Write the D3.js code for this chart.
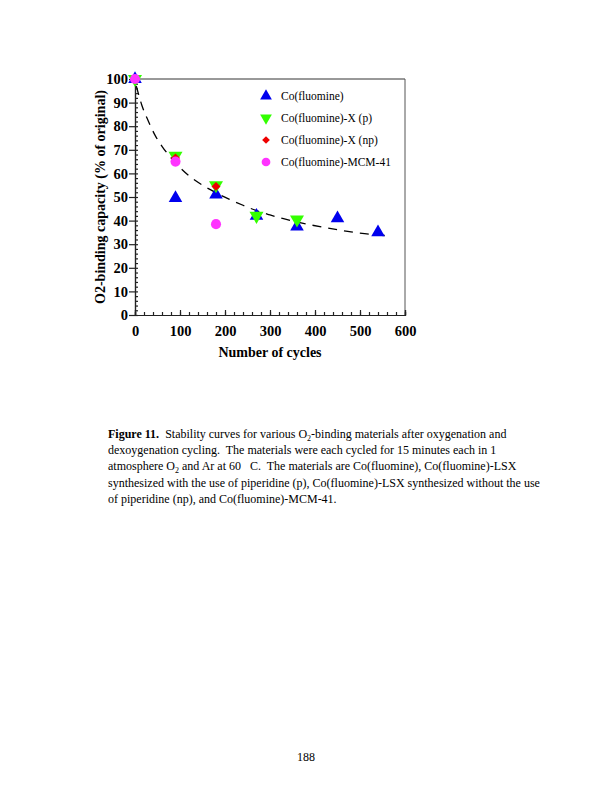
<!DOCTYPE html>
<html>
<head>
<meta charset="utf-8">
<script src="https://cdn.jsdelivr.net/npm/d3@7/dist/d3.min.js"></script>
<style>
body { margin: 0; background: #fff; }
svg text { font-family: "Liberation Serif", "Times New Roman", serif; }
</style>
</head>
<body>
<svg id="page" width="612" height="792"></svg>
<script>
// data
const seriesNames = ["Co(fluomine)", "Co(fluomine)-X (p)", "Co(fluomine)-X (np)", "Co(fluomine)-MCM-41"];
const fluomineX = [0, 90, 180, 270, 360, 450, 540];
const fluomineY = [100, 49.5, 51, 42, 37.5, 41, 35];
const xpX = [0, 90, 180, 270, 360];
const xpY = [100, 67.5, 55, 42, 40.5];
const xnpX = [0, 90, 180];
const xnpY = [100, 66.5, 54.5];
const mcmX = [0, 90, 180];
const mcmY = [100, 65, 38.5];
const fitX = [3, 15, 30, 45, 60, 90, 120, 150, 180, 210, 240, 270, 300, 330, 360, 390, 420, 450, 480, 510, 540, 570];
const fitY = [97, 89, 82, 76, 71.5, 64.5, 59, 55, 51.8, 49, 46.5, 44.2, 42.4, 40.8, 39.4, 38.2, 37.1, 36.1, 35.2, 34.5, 33.9, 33.5];
const xTicks = [0, 100, 200, 300, 400, 500, 600];
const yTicks = [0, 10, 20, 30, 40, 50, 60, 70, 80, 90, 100];

let svg = d3.select("#page");
let margin = {top: 79, left: 135, right: 207, bottom: 477};
let width = 612 - margin.left - margin.right;
let height = 792 - margin.top - margin.bottom;

let x = d3.scaleLinear().domain([0, 600]).range([0, width]);
let y = d3.scaleLinear().domain([0, 100]).range([height, 0]);

let g = svg.append("g")
    .attr("transform", "translate(" + margin.left + "," + margin.top + ")");

// frame top and right
g.append("line").attr("x1", 0).attr("x2", width).attr("y1", 0).attr("y2", 0)
    .attr("stroke", "#333").attr("stroke-width", 1);
g.append("line").attr("x1", width).attr("x2", width).attr("y1", 0).attr("y2", height)
    .attr("stroke", "#555").attr("stroke-width", 1);

// x axis: minor + major ticks pointing inward
let xAxis = g.append("g").attr("transform", "translate(0," + height + ")");
xAxis.call(d3.axisBottom(x).tickValues(d3.range(0, 601, 20)).tickSize(-3).tickFormat(""));
xAxis.append("g").call(d3.axisBottom(x).tickValues(xTicks).tickSize(-5).tickPadding(11)
    .tickFormat(d3.format("d")));
xAxis.selectAll("path, line").attr("stroke", "#222").attr("stroke-width", 1.2);
xAxis.selectAll("text").attr("fill", "#000").attr("font-size", 14.5).attr("font-weight", "bold")
    .attr("font-family", "Liberation Serif");

// y axis: major ticks left, minor ticks right
let yAxis = g.append("g");
yAxis.call(d3.axisRight(y).tickValues(d3.range(0, 101, 2)).tickSize(3).tickFormat(""));
yAxis.append("g").call(d3.axisLeft(y).tickValues(yTicks).tickSize(6).tickPadding(1)
    .tickFormat(d3.format("d")));
yAxis.selectAll("path, line").attr("stroke", "#222").attr("stroke-width", 1.2);
yAxis.selectAll("text").attr("fill", "#000").attr("font-size", 14.5).attr("font-weight", "bold")
    .attr("font-family", "Liberation Serif");

// axis titles
g.append("text").attr("x", width / 2).attr("y", height + 42)
    .attr("text-anchor", "middle").attr("font-size", 14).attr("font-weight", "bold")
    .text("Number of cycles");
g.append("text").attr("transform", "translate(-30," + (height / 2) + ") rotate(-90)")
    .attr("text-anchor", "middle").attr("font-size", 14).attr("font-weight", "bold")
    .text("O2-binding capacity (% of original)");

// dashed fit curve
let line = d3.line().x((d, i) => x(fitX[i])).y((d, i) => y(fitY[i])).curve(d3.curveMonotoneX);
g.append("path").datum(fitX).attr("d", line)
    .attr("fill", "none").attr("stroke", "#000").attr("stroke-width", 1.3)
    .attr("stroke-dasharray", "9,7");

let symbols = [d3.symbolTriangle, d3.symbolTriangle, d3.symbolSquare, d3.symbolCircle];
let colors = ["#0000ee", "#33ff00", "#ee0000", "#ff33ff"];
let rotations = [0, 180, 45, 0];
let sizes = [80, 85, 40, 80];
let series = [[fluomineX, fluomineY], [xpX, xpY], [xnpX, xnpY], [mcmX, mcmY]];

series.forEach(([xs, ys], s) => {
    g.selectAll(".pt" + s)
        .data(xs)
        .enter()
        .append("path")
        .attr("class", "pt" + s)
        .attr("d", d3.symbol().type(symbols[s]).size(sizes[s]))
        .attr("transform", (d, i) => "translate(" + x(d) + "," + y(ys[i]) + ") rotate(" + rotations[s] + ")")
        .attr("fill", colors[s]);
});

// legend
let legend = g.append("g").attr("transform", "translate(131,17)");
seriesNames.forEach((name, i) => {
    let row = legend.append("g").attr("transform", "translate(0," + (i * 22) + ")");
    row.append("path")
        .attr("d", d3.symbol().type(symbols[i]).size(i == 2 ? 30 : 60))
        .attr("transform", "rotate(" + rotations[i] + ")")
        .attr("fill", colors[i]);
    row.append("text").attr("x", 15).attr("y", 4).attr("font-size", 11.5).text(name);
});

// caption
let capLines = [
    [["b", "Figure 11."], ["n", "  Stability curves for various O"], ["s", "2"], ["n", "-binding materials after oxygenation and"]],
    [["n", "dexoygenation cycling.  The materials were each cycled for 15 minutes each in 1"]],
    [["n", "atmosphere O"], ["s", "2"], ["n", " and Ar at 60   C.  The materials are Co(fluomine), Co(fluomine)-LSX"]],
    [["n", "synthesized with the use of piperidine (p), Co(fluomine)-LSX synthesized without the use"]],
    [["n", "of piperidine (np), and Co(fluomine)-MCM-41."]]
];
capLines.forEach((parts, li) => {
    let t = svg.append("text").attr("x", 108).attr("y", 438 + li * 16.2)
        .attr("font-size", 12).attr("xml:space", "preserve").style("white-space", "pre");
    let sub = false;
    parts.forEach(([kind, str]) => {
        let sp = t.append("tspan").text(str);
        if (kind == "b") sp.attr("font-weight", "bold");
        if (kind == "s") { sp.attr("font-size", 8).attr("dy", 3); sub = true; }
        else if (sub) { sp.attr("dy", -3); sub = false; }
    });
});

svg.append("text").attr("x", 306).attr("y", 761).attr("text-anchor", "middle")
    .attr("font-size", 12).text("188");
</script>
</body>
</html>
